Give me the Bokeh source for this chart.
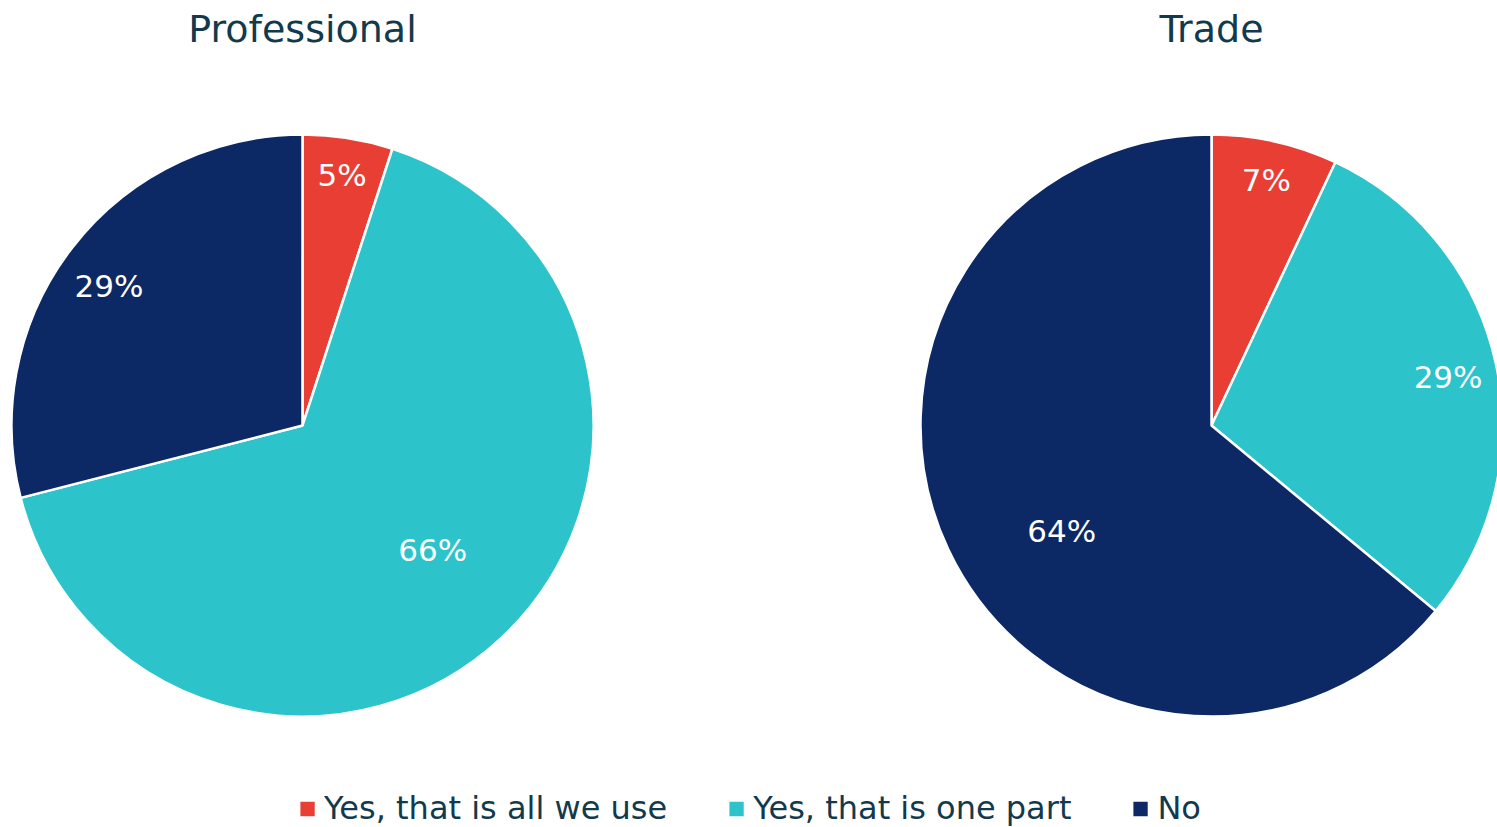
import numpy as np
from bokeh.plotting import figure
from bokeh.models import ColumnDataSource, Range1d, Legend, LegendItem, Label
from bokeh.embed import file_html
from bokeh.resources import INLINE
from bokeh.core.properties import value

# ---- data ----
categories = ["Yes, that is all we use", "Yes, that is one part", "No"]
professional = [5, 66, 29]
trade = [7, 29, 64]
pie_titles = ["Professional", "Trade"]
colors = ["#E83E33", "#2CC3CA", "#0C2865"]

# ---- layout / style ----
W, H = 1497, 827
centers_x = [302, 1211]
center_y = 402
radius = 291
label_r = [[0.87, 0.62, 0.82], [0.865, 0.83, 0.63]]
label_dang = [[0, -3, -2], [0, 1, -10]]  # degrees, clockwise tweak of label placement
FONT = "DejaVu Sans"
TEXT_COLOR = "#123A4C"

p = figure(width=W, height=H, x_range=Range1d(0, W), y_range=Range1d(0, H),
           output_backend="svg", toolbar_location=None, min_border=0,
           background_fill_color="white", border_fill_color="white")
p.axis.visible = False
p.grid.visible = False
p.outline_line_color = None

series = [professional, trade]

starts = []
ends = []
for vals in series:
    v = np.array(vals, dtype=float)
    frac = v / v.sum()
    cum = np.concatenate([[0], np.cumsum(frac)])
    starts.append(np.pi / 2 - cum[:-1] * 2 * np.pi)
    ends.append(np.pi / 2 - cum[1:] * 2 * np.pi)

legend_items = []
for ci, cat in enumerate(categories):
    src = ColumnDataSource(dict(
        x=[centers_x[k] for k in range(len(series))],
        y=[center_y] * len(series),
        start=[starts[k][ci] for k in range(len(series))],
        end=[ends[k][ci] for k in range(len(series))],
    ))
    r = p.wedge(x="x", y="y", radius=radius, start_angle="start", end_angle="end",
                direction="clock", fill_color=colors[ci], line_color="white",
                line_width=2.5, source=src)
    legend_items.append(LegendItem(label=cat, renderers=[r]))

# slice labels
lx, ly, lt = [], [], []
for k, vals in enumerate(series):
    for ci, v in enumerate(vals):
        mid = (starts[k][ci] + ends[k][ci]) / 2 - np.deg2rad(label_dang[k][ci])
        rr = radius * label_r[k][ci]
        lx.append(centers_x[k] + rr * np.cos(mid))
        ly.append(center_y + rr * np.sin(mid))
        lt.append(f"{v}%")
p.text(x=lx, y=ly, text=lt, text_align="center", text_baseline="middle",
       text_color="white", text_font=value(FONT), text_font_size="31px")

# pie titles
for k, t in enumerate(pie_titles):
    p.add_layout(Label(x=centers_x[k], y=center_y + radius + 106, text=t,
                       text_align="center", text_baseline="middle",
                       text_font=FONT, text_font_size="38px", text_color=TEXT_COLOR))

legend = Legend(items=legend_items, orientation="horizontal", location="bottom_center",
                glyph_width=21, glyph_height=21, label_standoff=7, spacing=58,
                padding=0, margin=0, border_line_color=None, background_fill_alpha=0,
                label_text_font=FONT, label_text_font_size="32px",
                label_text_color=TEXT_COLOR)
p.add_layout(legend)

open("out.html", "w").write(file_html(p, INLINE))
